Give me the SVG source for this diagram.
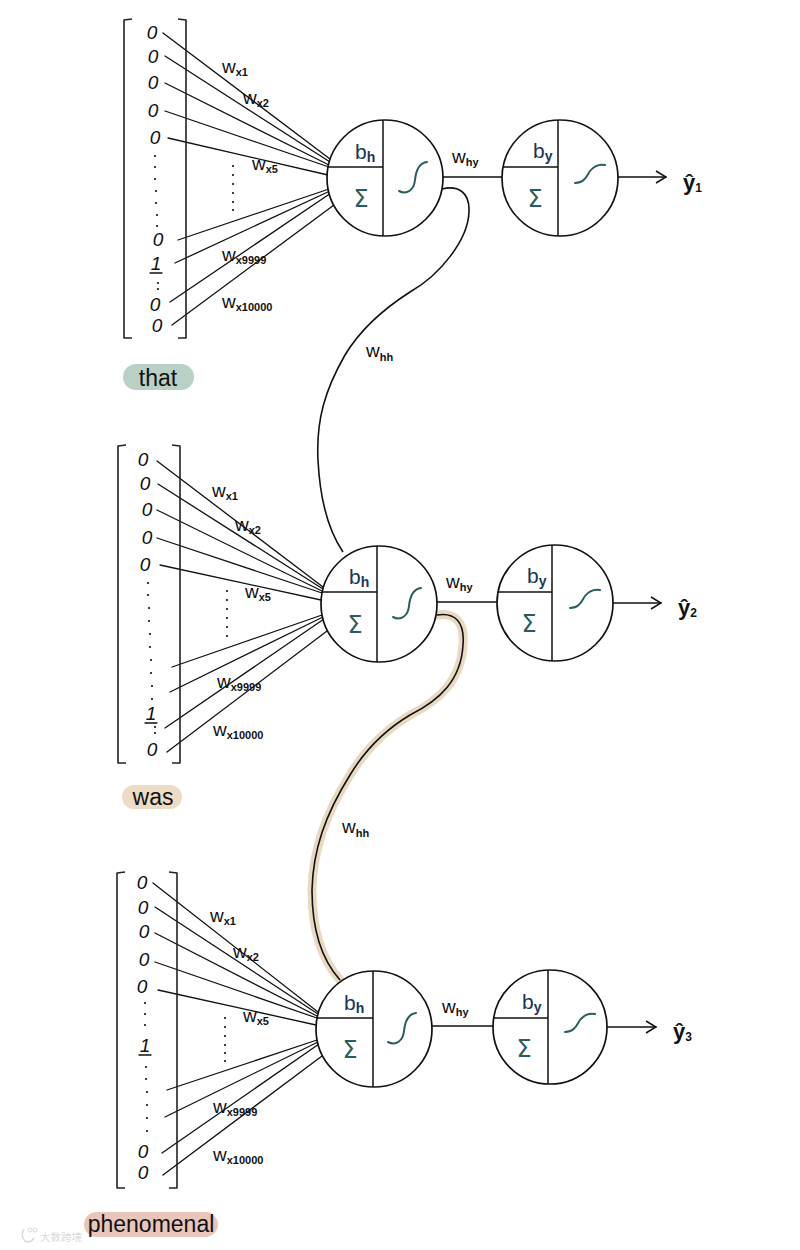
<svg xmlns="http://www.w3.org/2000/svg" width="800" height="1250" viewBox="0 0 800 1250">
<defs>
<style>
.ln{stroke:#111;stroke-width:1.3;fill:none;stroke-linecap:round}
.br{stroke:#222;stroke-width:1.6;fill:none;stroke-linejoin:round}
.cir{fill:#fff;stroke:#111;stroke-width:1.7}
.div{stroke:#111;stroke-width:1.5;fill:none}
.ent{font-family:'Liberation Sans',sans-serif;font-style:italic;font-size:19px;fill:#111;text-anchor:middle}
.w{font-family:'Liberation Sans',sans-serif;font-size:19px;fill:#111}
.sub{font-size:11px;font-weight:bold}
.bias{font-family:'Liberation Sans',sans-serif;font-size:21px;fill:#1b355a}
.bsub{font-size:14px;font-weight:bold}
.sig{font-family:'DejaVu Sans',sans-serif;font-size:24px;fill:#2b5c60;text-anchor:middle}
.sc{stroke:#2b5c60;stroke-width:2;fill:none;stroke-linecap:round}
.dot{fill:#111}
.tag{font-family:'Liberation Sans',sans-serif;font-size:23px;fill:#111;text-anchor:middle}
.yh{font-family:'Liberation Sans',sans-serif;font-size:22px;font-weight:bold;fill:#111}
.ysub{font-size:12px}
.whh{stroke:#111;stroke-width:1.6;fill:none}
.hl{stroke:#e8d9c2;stroke-width:9;fill:none;stroke-linecap:round}
</style>
<marker id="chev" viewBox="0 0 12 14" refX="11" refY="7" markerWidth="12" markerHeight="14" markerUnits="userSpaceOnUse" orient="auto">
<polyline points="1,1 11,7 1,13" fill="none" stroke="#111" stroke-width="1.5"/>
</marker>
</defs>
<rect width="800" height="1250" fill="#fff"/>

<!-- connectors -->
<g id="connectors">
  <line class="ln" x1="163" y1="33" x2="330" y2="159"/>
  <line class="ln" x1="165" y1="56" x2="330" y2="162"/>
  <line class="ln" x1="165" y1="83" x2="329" y2="165"/>
  <line class="ln" x1="165" y1="111" x2="329" y2="167"/>
  <line class="ln" x1="168" y1="138" x2="328" y2="175"/>
  <line class="ln" x1="178" y1="240" x2="329" y2="189"/>
  <line class="ln" x1="175" y1="263" x2="330" y2="191"/>
  <line class="ln" x1="170" y1="302" x2="331" y2="193"/>
  <line class="ln" x1="172" y1="325" x2="334" y2="205"/>
  <line class="ln" x1="157" y1="461" x2="323" y2="587"/>
  <line class="ln" x1="158" y1="484" x2="323" y2="589"/>
  <line class="ln" x1="157" y1="510" x2="322" y2="591"/>
  <line class="ln" x1="157" y1="538" x2="322" y2="593"/>
  <line class="ln" x1="160" y1="565" x2="321" y2="600"/>
  <line class="ln" x1="172" y1="667" x2="322" y2="615"/>
  <line class="ln" x1="170" y1="692" x2="323" y2="617"/>
  <line class="ln" x1="165" y1="728" x2="324" y2="619"/>
  <line class="ln" x1="167" y1="752" x2="327" y2="631"/>
  <line class="ln" x1="153" y1="883" x2="318" y2="1012"/>
  <line class="ln" x1="155" y1="907" x2="318" y2="1014"/>
  <line class="ln" x1="155" y1="933" x2="317" y2="1016"/>
  <line class="ln" x1="155" y1="962" x2="317" y2="1018"/>
  <line class="ln" x1="158" y1="990" x2="316" y2="1025"/>
  <line class="ln" x1="167" y1="1090" x2="317" y2="1040"/>
  <line class="ln" x1="165" y1="1117" x2="318" y2="1042"/>
  <line class="ln" x1="162" y1="1153" x2="319" y2="1044"/>
  <line class="ln" x1="163" y1="1175" x2="322" y2="1056"/>
  <line class="ln" x1="443" y1="177" x2="502" y2="177"/>
  <line class="ln" x1="437" y1="602" x2="497" y2="602"/>
  <line class="ln" x1="432" y1="1026" x2="493" y2="1026"/>
  <line class="ln" x1="618" y1="177" x2="666" y2="177" marker-end="url(#chev)"/>
  <line class="ln" x1="613" y1="603" x2="661" y2="603" marker-end="url(#chev)"/>
  <line class="ln" x1="607" y1="1027" x2="656" y2="1027" marker-end="url(#chev)"/>
  <path class="whh" d="M442,189 C458,185 470,192 469,212 C468,240 440,275 410,292 C385,308 360,330 345,355 C325,390 316,420 318,460 C320,500 328,530 343,552"/>
  <path class="hl" d="M437,615 C455,612 465,622 463,645 C461,680 440,700 410,715 C385,730 365,750 350,775 C325,815 313,850 312,890 C312,930 322,960 340,980"/>
  <path class="whh" d="M437,615 C455,612 465,622 463,645 C461,680 440,700 410,715 C385,730 365,750 350,775 C325,815 313,850 312,890 C312,930 322,960 340,980"/>
</g>

<g id="weight-labels">
  <text class="w" x="222" y="73">w<tspan class="sub" dy="3">x1</tspan></text>
  <text class="w" x="243" y="104">w<tspan class="sub" dy="3">x2</tspan></text>
  <text class="w" x="252" y="170">w<tspan class="sub" dy="3">x5</tspan></text>
  <text class="w" x="222" y="261">w<tspan class="sub" dy="3">x9999</tspan></text>
  <text class="w" x="222" y="308">w<tspan class="sub" dy="3">x10000</tspan></text>

  <text class="w" x="212" y="497">w<tspan class="sub" dy="3">x1</tspan></text>
  <text class="w" x="235" y="531">w<tspan class="sub" dy="3">x2</tspan></text>
  <text class="w" x="245" y="598">w<tspan class="sub" dy="3">x5</tspan></text>
  <text class="w" x="217" y="688">w<tspan class="sub" dy="3">x9999</tspan></text>
  <text class="w" x="213" y="736">w<tspan class="sub" dy="3">x10000</tspan></text>

  <text class="w" x="210" y="922">w<tspan class="sub" dy="3">x1</tspan></text>
  <text class="w" x="233" y="958">w<tspan class="sub" dy="3">x2</tspan></text>
  <text class="w" x="243" y="1022">w<tspan class="sub" dy="3">x5</tspan></text>
  <text class="w" x="213" y="1113">w<tspan class="sub" dy="3">x9999</tspan></text>
  <text class="w" x="213" y="1161">w<tspan class="sub" dy="3">x10000</tspan></text>

  <text class="w" x="452" y="163">w<tspan class="sub" dy="3" font-size="13">hy</tspan></text>
  <text class="w" x="446" y="588">w<tspan class="sub" dy="3" font-size="13">hy</tspan></text>
  <text class="w" x="442" y="1013">w<tspan class="sub" dy="3" font-size="13">hy</tspan></text>

  <text class="w" x="366" y="357">w<tspan class="sub" dy="4" font-size="13">hh</tspan></text>
  <text class="w" x="342" y="833">w<tspan class="sub" dy="4" font-size="13">hh</tspan></text>

  <g class="dot">
    <circle cx="233" cy="166" r="1.1"/><circle cx="233" cy="175" r="1.1"/><circle cx="233" cy="184" r="1.1"/><circle cx="233" cy="193" r="1.1"/><circle cx="233" cy="202" r="1.1"/><circle cx="233" cy="210" r="1.1"/>
    <circle cx="227" cy="591" r="1.1"/><circle cx="227" cy="600" r="1.1"/><circle cx="227" cy="609" r="1.1"/><circle cx="227" cy="618" r="1.1"/><circle cx="227" cy="627" r="1.1"/><circle cx="227" cy="636" r="1.1"/>
    <circle cx="225" cy="1018" r="1.1"/><circle cx="225" cy="1027" r="1.1"/><circle cx="225" cy="1036" r="1.1"/><circle cx="225" cy="1045" r="1.1"/><circle cx="225" cy="1053" r="1.1"/><circle cx="225" cy="1061" r="1.1"/>
  </g>
</g>

<g id="input1">
  <path class="br" d="M132,19 L124,20 L124,338 L132,338"/>
  <path class="br" d="M178,19 L186,20 L186,338 L178,338"/>
  <text class="ent" x="152" y="39">0</text>
  <text class="ent" x="153" y="63">0</text>
  <text class="ent" x="153" y="89">0</text>
  <text class="ent" x="153" y="117">0</text>
  <text class="ent" x="155" y="144">0</text>
  <g class="dot"><circle cx="155" cy="156" r="1.1"/><circle cx="155" cy="167" r="1.1"/><circle cx="155" cy="179" r="1.1"/><circle cx="156" cy="191" r="1.1"/><circle cx="156" cy="203" r="1.1"/><circle cx="157" cy="215" r="1.1"/><circle cx="157" cy="226" r="1.1"/><circle cx="158" cy="283" r="1.1"/><circle cx="158" cy="289" r="1.1"/></g>
  <text class="ent" x="158" y="246">0</text>
  <text class="ent" x="156" y="270">1</text>
  <line class="ln" x1="150" y1="273" x2="162" y2="273"/>
  <text class="ent" x="155" y="311">0</text>
  <text class="ent" x="157" y="332">0</text>
</g>

<g id="input2">
  <path class="br" d="M126,445 L118,446 L118,763 L126,763"/>
  <path class="br" d="M172,445 L180,446 L180,763 L172,763"/>
  <text class="ent" x="143" y="466">0</text>
  <text class="ent" x="145" y="490">0</text>
  <text class="ent" x="147" y="516">0</text>
  <text class="ent" x="147" y="544">0</text>
  <text class="ent" x="145" y="571">0</text>
  <g class="dot"><circle cx="148" cy="583" r="1.1"/><circle cx="148" cy="595" r="1.1"/><circle cx="149" cy="608" r="1.1"/><circle cx="149" cy="621" r="1.1"/><circle cx="150" cy="634" r="1.1"/><circle cx="150" cy="647" r="1.1"/><circle cx="151" cy="660" r="1.1"/><circle cx="151" cy="673" r="1.1"/><circle cx="152" cy="686" r="1.1"/><circle cx="152" cy="699" r="1.1"/><circle cx="155" cy="727" r="1.1"/><circle cx="155" cy="733" r="1.1"/></g>
  <text class="ent" x="151" y="720">1</text>
  <line class="ln" x1="145" y1="723" x2="157" y2="723"/>
  <text class="ent" x="152" y="756">0</text>
</g>

<g id="input3">
  <path class="br" d="M125,872 L117,873 L117,1188 L125,1188"/>
  <path class="br" d="M169,872 L177,873 L177,1188 L169,1188"/>
  <text class="ent" x="142" y="889">0</text>
  <text class="ent" x="143" y="914">0</text>
  <text class="ent" x="144" y="938">0</text>
  <text class="ent" x="144" y="966">0</text>
  <text class="ent" x="142" y="993">0</text>
  <g class="dot"><circle cx="145" cy="1003" r="1.1"/><circle cx="145" cy="1014" r="1.1"/><circle cx="145" cy="1025" r="1.1"/><circle cx="146" cy="1067" r="1.1"/><circle cx="146" cy="1079" r="1.1"/><circle cx="147" cy="1092" r="1.1"/><circle cx="147" cy="1105" r="1.1"/><circle cx="147" cy="1118" r="1.1"/><circle cx="147" cy="1131" r="1.1"/></g>
  <text class="ent" x="145" y="1052">1</text>
  <line class="ln" x1="139" y1="1055" x2="151" y2="1055"/>
  <text class="ent" x="143" y="1158">0</text>
  <text class="ent" x="143" y="1179">0</text>
</g>

<g id="hidden1" transform="translate(385,178)">
  <circle class="cir" cx="0" cy="0" r="58"/>
  <line class="div" x1="-2" y1="-58" x2="-2" y2="58"/>
  <line class="div" x1="-57" y1="-11" x2="-2" y2="-11"/>
  <text class="bias" x="-30" y="-19">b<tspan class="bsub" dy="3">h</tspan></text>
  <text class="sig" x="-24" y="29">Σ</text>
  <path class="sc" d="M14,13 C22,17 29,12 30,2 C31,-8 34,-15 42,-16"/>
</g>
<g id="hidden2" transform="translate(379,604)">
  <circle class="cir" cx="0" cy="0" r="58"/>
  <line class="div" x1="-2" y1="-58" x2="-2" y2="58"/>
  <line class="div" x1="-57" y1="-12" x2="-2" y2="-12"/>
  <text class="bias" x="-30" y="-20">b<tspan class="bsub" dy="3">h</tspan></text>
  <text class="sig" x="-24" y="29">Σ</text>
  <path class="sc" d="M14,13 C22,17 29,12 30,2 C31,-8 34,-15 42,-16"/>
</g>
<g id="hidden3" transform="translate(374,1029)">
  <circle class="cir" cx="0" cy="0" r="58"/>
  <line class="div" x1="-1" y1="-58" x2="-1" y2="58"/>
  <line class="div" x1="-57" y1="-11" x2="-1" y2="-11"/>
  <text class="bias" x="-30" y="-19">b<tspan class="bsub" dy="3">h</tspan></text>
  <text class="sig" x="-24" y="29">Σ</text>
  <path class="sc" d="M14,13 C22,17 29,12 30,2 C31,-8 34,-15 42,-16"/>
</g>

<g id="output1" transform="translate(560,178)">
  <circle class="cir" cx="0" cy="0" r="58"/>
  <line class="div" x1="-2" y1="-58" x2="-2" y2="58"/>
  <line class="div" x1="-57" y1="-11" x2="-2" y2="-11"/>
  <text class="bias" x="-27" y="-20">b<tspan class="bsub" dy="3">y</tspan></text>
  <text class="sig" x="-25" y="29">Σ</text>
  <path class="sc" d="M15,5 C25,5 27,-3 30,-7 C34,-12 39,-14 45,-13"/>
</g>
<g id="output2" transform="translate(555,603)">
  <circle class="cir" cx="0" cy="0" r="58"/>
  <line class="div" x1="-3" y1="-58" x2="-3" y2="58"/>
  <line class="div" x1="-57" y1="-11" x2="-3" y2="-11"/>
  <text class="bias" x="-28" y="-20">b<tspan class="bsub" dy="3">y</tspan></text>
  <text class="sig" x="-26" y="29">Σ</text>
  <path class="sc" d="M15,5 C25,5 27,-3 30,-7 C34,-12 39,-14 45,-13"/>
</g>
<g id="output3" transform="translate(550,1027)">
  <circle class="cir" cx="0" cy="0" r="57"/>
  <line class="div" x1="-2" y1="-57" x2="-2" y2="57"/>
  <line class="div" x1="-56" y1="-9" x2="-2" y2="-9"/>
  <text class="bias" x="-28" y="-18">b<tspan class="bsub" dy="3">y</tspan></text>
  <text class="sig" x="-26" y="30">Σ</text>
  <path class="sc" d="M15,5 C25,5 27,-3 30,-7 C34,-12 39,-14 45,-13"/>
</g>

<g id="yhat1"><text class="yh" x="683" y="190">ŷ<tspan class="ysub" dy="2">1</tspan></text></g>
<g id="yhat2"><text class="yh" x="678" y="615">ŷ<tspan class="ysub" dy="2">2</tspan></text></g>
<g id="yhat3"><text class="yh" x="673" y="1039">ŷ<tspan class="ysub" dy="2">3</tspan></text></g>

<g id="tag-that">
  <rect x="123" y="364" width="71" height="26" rx="13" fill="#b9d1c5"/>
  <text class="tag" x="158" y="386">that</text>
</g>
<g id="tag-was">
  <rect x="122" y="785" width="60" height="24" rx="12" fill="#ecdcc5"/>
  <text class="tag" x="153" y="805">was</text>
</g>
<g id="tag-phenomenal">
  <rect x="84" y="1212" width="134" height="25" rx="12.5" fill="#e9c6ba"/>
  <text class="tag" x="151" y="1232">phenomenal</text>
</g>

<g id="watermark" opacity="0.55">
  <path d="M24,1229 Q20,1236 25,1241 Q30,1244 34,1238" fill="none" stroke="#bbb" stroke-width="1.5"/>
  <circle cx="30" cy="1230" r="2" fill="none" stroke="#bbb" stroke-width="1"/>
  <circle cx="35" cy="1230" r="2" fill="none" stroke="#bbb" stroke-width="1"/>
  <text x="40" y="1241" font-family="'Noto Sans CJK SC',sans-serif" font-size="10.5" fill="#bbb">大数跨境</text>
</g>
</svg>
